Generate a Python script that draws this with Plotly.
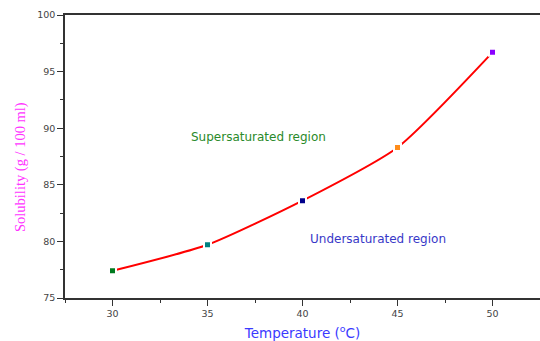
import plotly.graph_objects as go

temperature = [30, 35, 40, 45, 50]
solubility = [77.4, 79.7, 83.6, 88.3, 96.7]
marker_colors = ["#007a1f", "#008080", "#00008b", "#ff8c1a", "#8a00ff"]
x_ticks = [30, 35, 40, 45, 50]
y_ticks = [75, 80, 85, 90, 95, 100]

fig = go.Figure()
fig.add_trace(go.Scatter(
    x=temperature, y=solubility, mode="lines",
    line=dict(color="#ff0000", width=2, shape="spline", smoothing=0.6),
    hoverinfo="skip", showlegend=False))
fig.add_trace(go.Scatter(
    x=temperature, y=solubility, mode="markers",
    marker=dict(symbol="square", size=7, color=marker_colors,
                line=dict(color="white", width=2)),
    showlegend=False))

tickfont = dict(family="DejaVu Sans", size=9.5, color="#444444")
fig.update_xaxes(
    range=[27.5, 52.5], tickvals=x_ticks, showgrid=False, zeroline=False,
    showline=True, linecolor="#333333", linewidth=1.5, mirror=True,
    ticks="outside", ticklen=6, tickcolor="#333333", tickfont=tickfont,
    minor=dict(dtick=2.5, ticks="outside", ticklen=3, tickcolor="#333333"),
    title=dict(text="Temperature (<sup>o</sup>C)", standoff=10,
               font=dict(family="DejaVu Sans", size=13.5, color="#3a3aff")))
fig.update_yaxes(
    range=[75, 100], tickvals=y_ticks, showgrid=False, zeroline=False,
    showline=True, linecolor="#333333", linewidth=1.5,
    ticks="outside", ticklen=6, tickcolor="#333333", tickfont=tickfont)
fig.update_yaxes(minor=dict(dtick=2.5, ticks="outside", ticklen=3, tickcolor="#333333"))

fig.add_annotation(x=(20 - 65) / 475, y=(298 - 167) / 283, xref="paper", yref="paper",
                   text="Solubility (g / 100 ml)",
                   showarrow=False, textangle=-90, xanchor="center", yanchor="middle",
                   font=dict(family="Liberation Serif, Times New Roman", size=14.5, color="#ff33ff"))
fig.add_annotation(x=37.7, y=89.2, text="Supersaturated region", showarrow=False,
                   font=dict(family="DejaVu Sans", size=12, color="#2a8a2a"))
fig.add_annotation(x=43.97, y=80.2, text="Undersaturated region", showarrow=False,
                   font=dict(family="DejaVu Sans", size=12, color="#3838c8"))

fig.update_layout(
    width=540, height=341, margin=dict(l=65, r=0, t=15, b=43),
    paper_bgcolor="white", plot_bgcolor="white")
fig.write_html("out.html")
